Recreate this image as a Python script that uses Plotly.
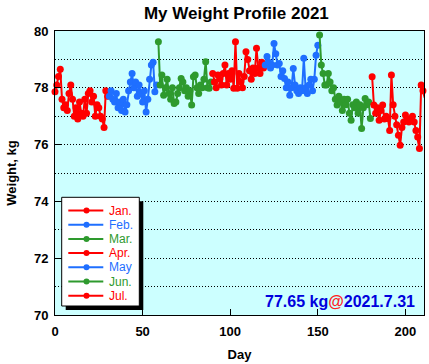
import plotly.graph_objects as go

# ---- data (daily weight, kg) ----
month_names = ["Jan.", "Feb.", "Mar.", "Apr.", "May", "Jun.", "Jul."]
month_colors = ["#ff0000", "#1f6fff", "#2e9a2e", "#ff0000", "#1f6fff", "#2e9a2e", "#ff0000"]

jan = [77.86, 78.1, 78.4, 78.65, 77.6, 77.3, 77.4, 77.2, 77.8, 78.1, 77.6, 77.0, 77.3, 76.9, 77.5, 77.1,
       77.0, 77.6, 77.1, 77.8, 77.9, 77.5, 77.7, 77.0, 77.4, 77.3, 77.0, 76.9, 76.6, 77.9, 77.7]
feb = [77.7, 77.9, 77.6, 77.5, 77.8, 77.3, 77.5, 77.2, 77.6, 77.15, 77.4, 77.9, 78.2, 78.5, 78.0, 78.2,
       77.7, 78.1, 77.8, 77.5, 77.9, 77.15, 77.6, 78.3, 78.8, 78.9, 77.86, 78.1]
mar = [79.62, 78.1, 78.45, 77.74, 78.0, 78.3, 77.8, 77.6, 78.0, 77.45, 77.5, 77.8, 78.0, 78.33, 78.2, 77.9,
       78.0, 77.7, 77.9, 77.39, 78.39, 78.45, 78.0, 77.8, 78.1, 78.0, 78.3, 78.92, 78.0, 77.98, 78.2]
apr = [78.5, 78.2, 78.0, 78.45, 78.3, 78.1, 78.5, 78.8, 78.1, 78.5, 78.3, 78.6, 77.98, 79.62, 77.98, 78.5,
       78.2, 78.0, 78.4, 79.27, 79.0, 78.6, 78.3, 78.7, 78.5, 79.39, 78.7, 78.5, 78.9, 78.7]
may = [78.8, 79.1, 78.9, 78.7, 78.8, 79.56, 79.2, 78.8, 78.86, 78.4, 78.6, 78.33, 78.0, 78.2, 77.74, 78.0,
       78.68, 78.1, 77.9, 77.8, 78.0, 77.9, 79.04, 78.0, 77.8, 78.1, 78.3, 77.9, 78.3, 79.15, 79.5]
jun = [79.86, 78.8, 78.5, 78.1, 78.1, 78.5, 78.2, 77.9, 78.0, 77.6, 77.39, 77.7, 77.5, 77.2, 77.6, 77.4,
       77.6, 77.1, 76.86, 77.4, 77.3, 77.5, 77.1, 77.4, 76.57, 77.3, 77.62, 77.4, 77.5, 76.92]
jul = [78.39, 77.39, 77.1, 77.3, 76.86, 77.2, 77.39, 76.9, 77.0, 76.92, 76.5, 78.45, 77.4, 77.0, 76.7, 76.33,
       75.98, 76.6, 76.8, 77.04, 76.9, 76.8, 76.9, 77.0, 76.8, 76.5, 76.27, 75.86, 78.1, 77.9, 77.65]

months = [jan, feb, mar, apr, may, jun, jul]
last_date = "2021.7.31"

x_ticks = [0, 50, 100, 150, 200]
y_ticks = [70, 72, 74, 76, 78, 80]

FONT = "Liberation Sans, Arial, Helvetica, sans-serif"

# plot-area geometry in pixels (used for the hand-drawn legend box)
L, R, T, B = 55, 424, 31, 315


def px_x(p):
    return (p - L) / (R - L)


def px_y(p):
    return (B - p) / (B - T)


fig = go.Figure()
start = 0
for name, color, vals in zip(month_names, month_colors, months):
    days = list(range(start, start + len(vals)))
    start += len(vals)
    fig.add_trace(go.Scatter(
        x=days, y=vals, mode="lines+markers", name=name,
        line=dict(color=color, width=2),
        marker=dict(color=color, size=7),
        cliponaxis=False, showlegend=False,
    ))

GRID_DASH = "1px,2px"
fig.update_layout(
    width=429, height=364,
    margin=dict(l=L, r=429 - R, t=T, b=364 - B, autoexpand=False),
    paper_bgcolor="white",
    plot_bgcolor="#ccffff",
    font=dict(family=FONT, size=13, color="black"),
    title=dict(text="My Weight Profile 2021", x=0.551, xanchor="center", y=1 - 13 / 364, yanchor="middle",
               font=dict(family=FONT, size=17, weight="bold", color="black")),
    showlegend=False,
    xaxis=dict(range=[0, 210.6], tickvals=x_ticks, ticks="inside", ticklen=6, tickcolor="black",
               showline=True, linecolor="black", linewidth=1, mirror=True,
               showgrid=False, zeroline=False, ticklabelstandoff=4,
               tickfont=dict(family=FONT, size=13, weight="bold"),
               title=dict(text="Day", font=dict(family=FONT, size=13, weight="bold"), standoff=12)),
    yaxis=dict(range=[70, 80], tickvals=y_ticks, ticks="inside", ticklen=6, tickcolor="black",
               showline=True, linecolor="black", linewidth=1, mirror=True,
               showgrid=True, gridcolor="black", griddash=GRID_DASH, gridwidth=1,
               minor=dict(dtick=1, showgrid=True, gridcolor="black", griddash=GRID_DASH, gridwidth=1),
               zeroline=False, ticklabelstandoff=3,
               tickfont=dict(family=FONT, size=13, weight="bold"),
               title=dict(text="Weight, kg", font=dict(family=FONT, size=13, weight="bold"), standoff=14)),
)

# ---- legend box with drop shadow ----
bx0, bx1, by0, by1 = 61.7, 139.3, 197.3, 306
sh = 4
fig.add_shape(type="rect", xref="paper", yref="paper",
              x0=px_x(bx0 + sh), x1=px_x(bx1 + sh), y0=px_y(by0 + sh), y1=px_y(by1 + sh),
              fillcolor="black", line=dict(width=0), layer="above")
fig.add_shape(type="rect", xref="paper", yref="paper",
              x0=px_x(bx0), x1=px_x(bx1), y0=px_y(by0), y1=px_y(by1),
              fillcolor="white", line=dict(color="black", width=1), layer="above")
item_top, item_step = 210.5, 14.2
lx0, lx1, lxm, tx = 68.3, 103.3, 86.5, 106.5
mr = 3
for i, (name, color) in enumerate(zip(month_names, month_colors)):
    yy = item_top + i * item_step
    fig.add_shape(type="line", xref="paper", yref="paper",
                  x0=px_x(lx0), x1=px_x(lx1), y0=px_y(yy), y1=px_y(yy),
                  line=dict(color=color, width=2), layer="above")
    fig.add_shape(type="circle", xref="paper", yref="paper",
                  x0=px_x(lxm - mr), x1=px_x(lxm + mr), y0=px_y(yy - mr), y1=px_y(yy + mr),
                  fillcolor=color, line=dict(width=0), layer="above")
    fig.add_annotation(xref="paper", yref="paper", x=px_x(tx), y=px_y(yy), xanchor="left", yanchor="middle",
                       showarrow=False, text=name, font=dict(family=FONT, size=12, color=color))

fig.add_annotation(
    xref="paper", yref="paper", x=px_x(416.7), y=px_y(301.7), xanchor="right", yanchor="middle", showarrow=False,
    text=f"{jul[-1]:.2f} kg<span style='color:#ff2222'>@</span>{last_date}",
    font=dict(family=FONT, size=16, weight="bold", color="#0000dd"),
)

fig.write_html("out.html", config={"displayModeBar": False},
               post_script="document.body.style.margin='0';")
